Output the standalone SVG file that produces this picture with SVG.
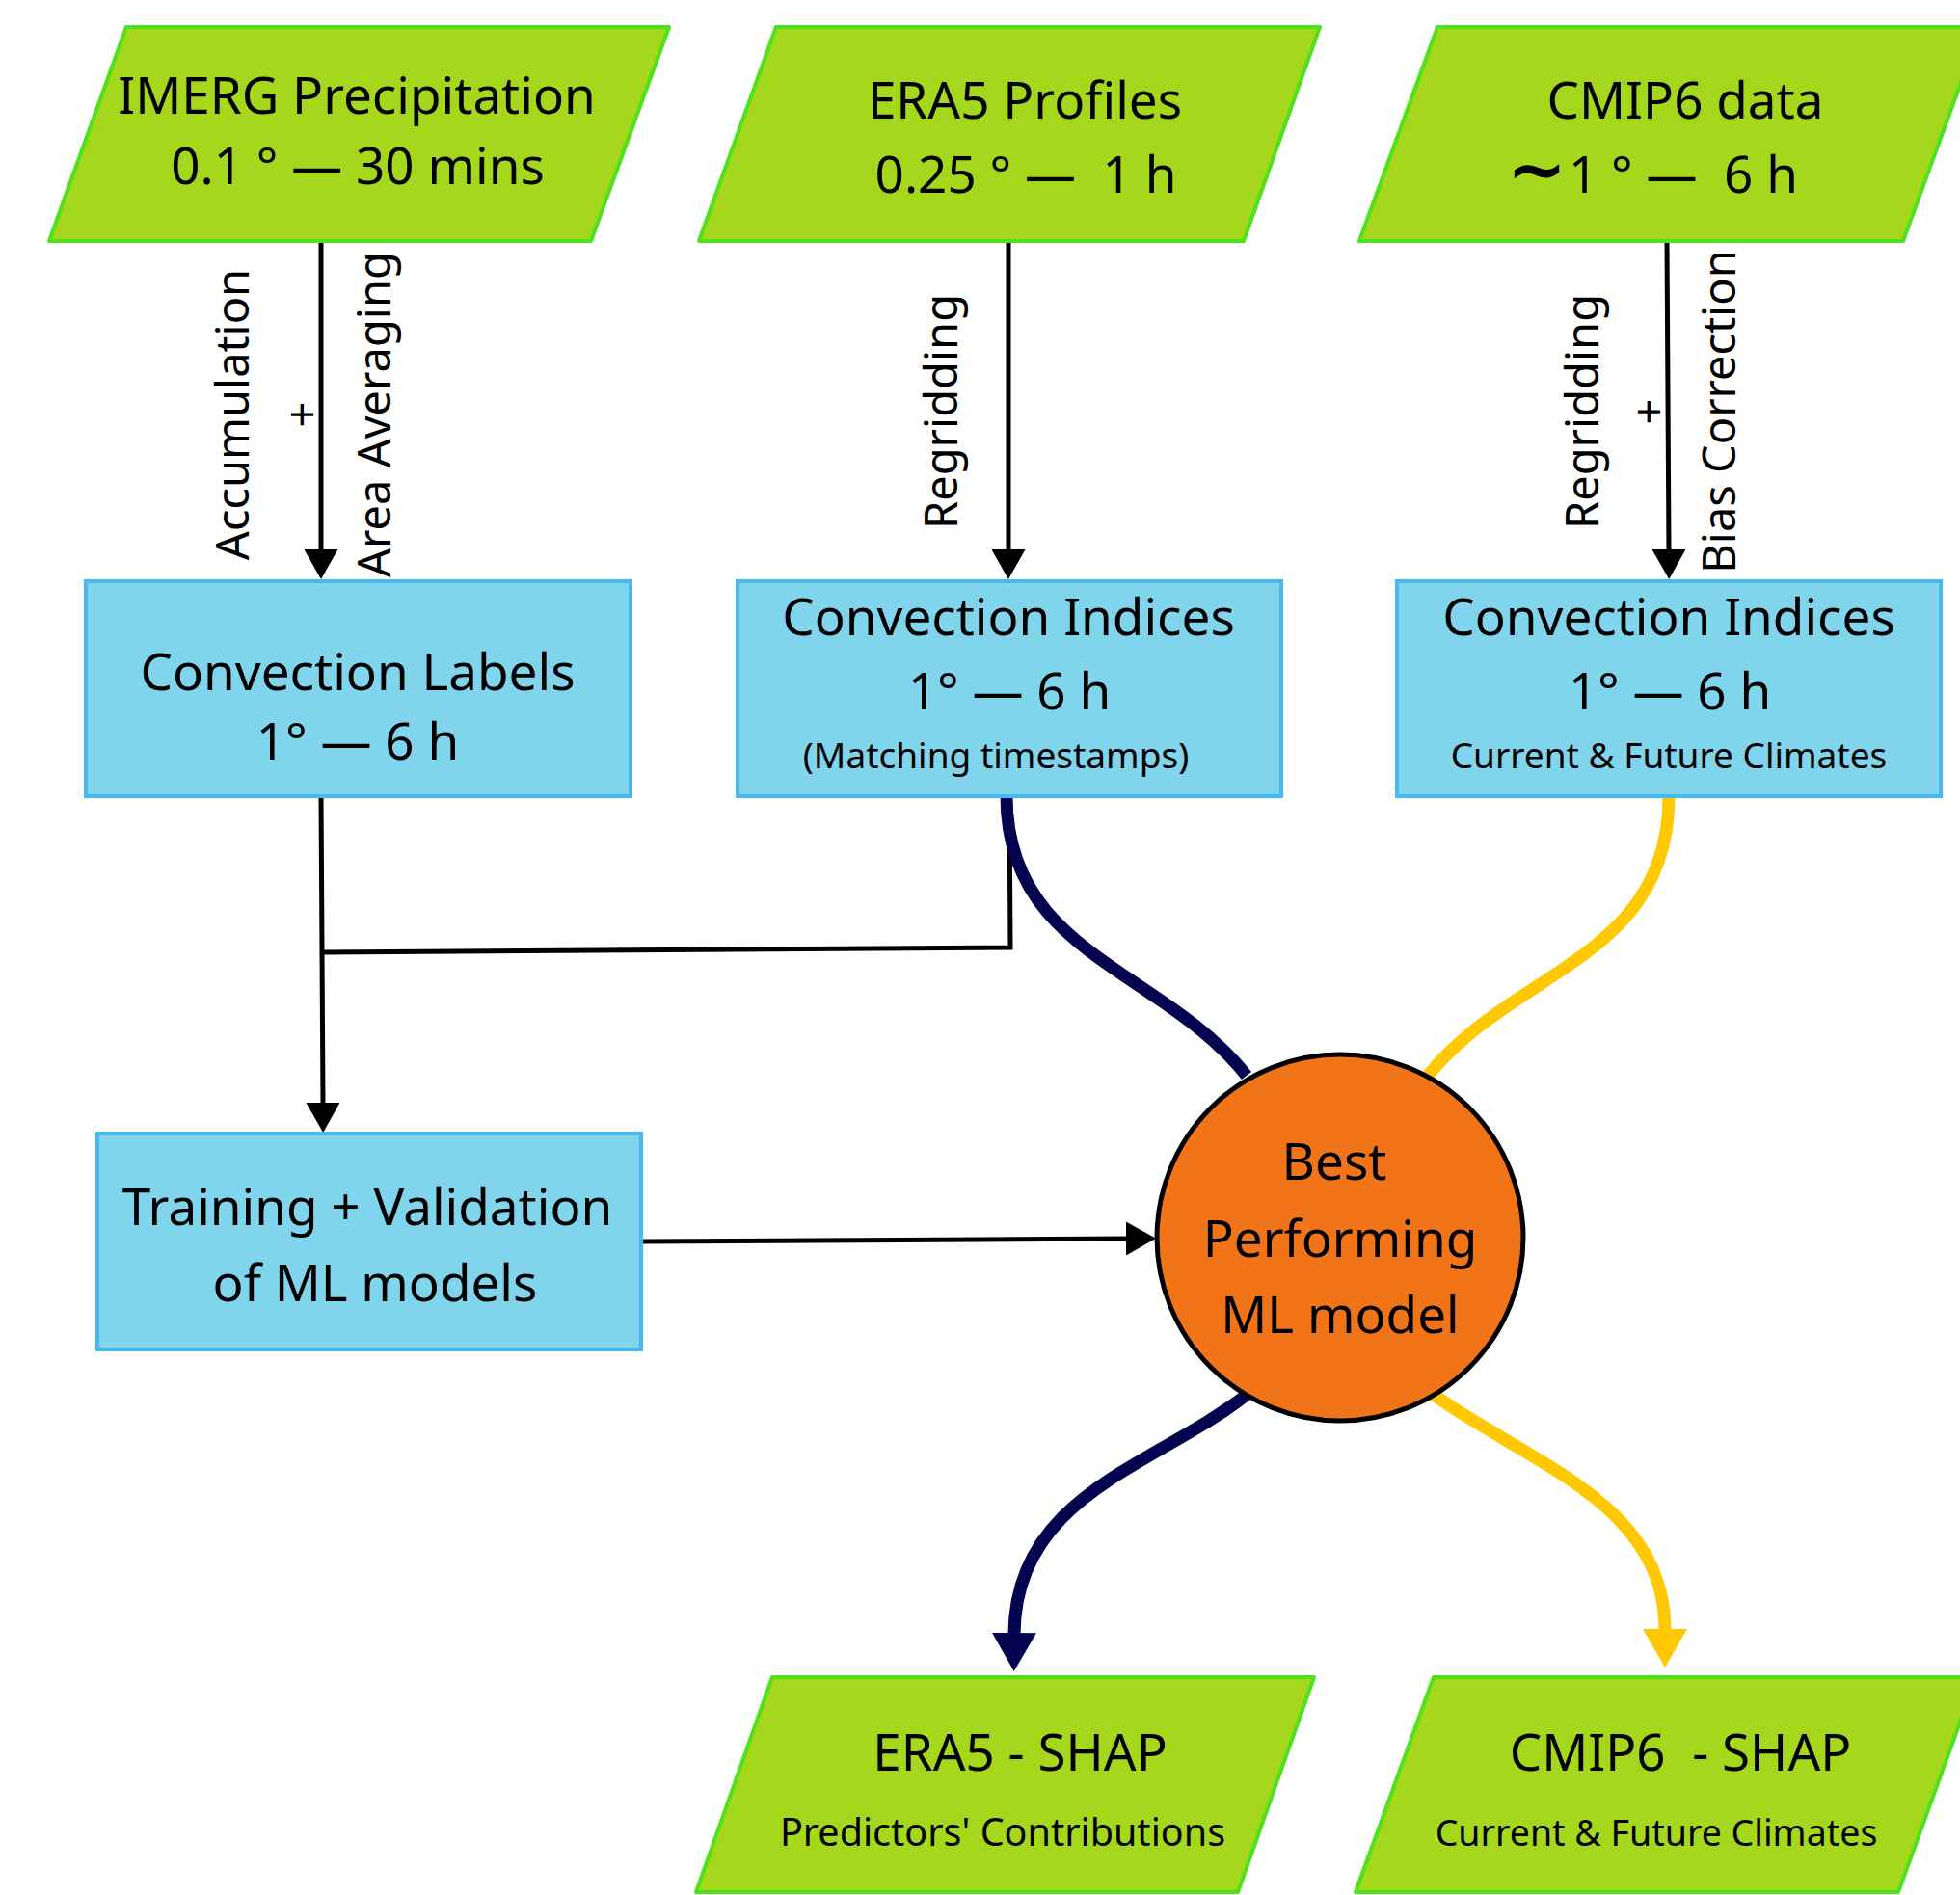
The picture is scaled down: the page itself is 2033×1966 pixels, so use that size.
<svg xmlns="http://www.w3.org/2000/svg" width="2033" height="1966" viewBox="0 0 2033 1966">
<style>
text{font-family:"Noto Sans","DejaVu Sans",sans-serif;fill:#000}
.big{font-size:53px;text-anchor:middle}
.small{font-size:37px;text-anchor:middle}
.vert{font-size:47px;text-anchor:middle}
.para{fill:#a5d81c;stroke:#4fe11d;stroke-width:4;stroke-linejoin:round}
.box{fill:#80d4ec;stroke:#44baee;stroke-width:4}
.ln{fill:none;stroke:#000;stroke-width:5}
.navy{fill:none;stroke:#03034f;stroke-width:13}
.yel{fill:none;stroke:#ffc800;stroke-width:13}
</style>
<defs>
<marker id="ab" markerUnits="userSpaceOnUse" viewBox="0 0 31 35" markerWidth="31" markerHeight="35" refX="1" refY="17.5" orient="auto"><path d="M0,0 L31,17.5 L0,35 z" fill="#000"/></marker>
<marker id="an" markerUnits="userSpaceOnUse" viewBox="0 0 40 46" markerWidth="40" markerHeight="46" refX="1" refY="23" orient="auto"><path d="M0,0 L40,23 L0,46 z" fill="#03034f"/></marker>
<marker id="ay" markerUnits="userSpaceOnUse" viewBox="0 0 40 46" markerWidth="40" markerHeight="46" refX="1" refY="23" orient="auto"><path d="M0,0 L40,23 L0,46 z" fill="#ffc800"/></marker>
</defs>
<rect width="2033" height="1966" fill="#fff"/>

<g id="connectors">
<path class="ln" d="M333,250 L333,571" marker-end="url(#ab)"/>
<path class="ln" d="M1046,252 L1046,571" marker-end="url(#ab)"/>
<path class="ln" d="M1729,250 L1731,571" marker-end="url(#ab)"/>
<path class="ln" d="M333,826 L335,1145" marker-end="url(#ab)"/>
<path class="ln" d="M335,988 L1048,983 L1047,826"/>
<path class="ln" d="M665,1288 L1169,1285" marker-end="url(#ab)"/>
<path class="navy" d="M1044,826 C1044,990 1205,1005 1293,1116"/>
<path class="yel" d="M1731,826 C1731,995 1570,1005 1481,1116"/>
<path class="navy" d="M1293,1447 C1200,1520 1053,1550 1052,1695" marker-end="url(#an)"/>
<path class="yel" d="M1487,1447 C1590,1520 1727,1560 1727,1691" marker-end="url(#ay)"/>
</g>

<g id="imerg">
<polygon class="para" points="131,28 694,28 613,250 51,250"/>
<text class="big" x="370" y="118">IMERG Precipitation</text>
<text class="big" x="371" y="191">0.1 ° — 30 mins</text>
</g>
<g id="era5">
<polygon class="para" points="805,28 1369,28 1290,250 725,250"/>
<text class="big" x="1063" y="123">ERA5 Profiles</text>
<text class="big" x="1064" y="200" xml:space="preserve">0.25 ° —  1 h</text>
</g>
<g id="cmip6">
<polygon class="para" points="1491,28 2055,28 1974,250 1410,250"/>
<text class="big" x="1748" y="123">CMIP6 data</text>
<text x="1563" y="201" style="font-family:'DejaVu Sans',sans-serif;font-weight:bold;font-size:74px">∼</text>
<text x="1627" y="200" style="font-size:53px" xml:space="preserve">1 ° —  6 h</text>
</g>

<g id="label-imerg">
<text class="vert" transform="translate(0,430) rotate(-90)"><tspan x="0" y="258">Accumulation</tspan><tspan x="0" y="330">+</tspan><tspan x="0" y="405">Area Averaging</tspan></text>
</g>
<g id="label-era5">
<text class="vert" transform="translate(0,427) rotate(-90)"><tspan x="0" y="993">Regridding</tspan></text>
</g>
<g id="label-cmip6">
<text class="vert" transform="translate(0,427) rotate(-90)"><tspan x="0" y="1658">Regridding</tspan><tspan x="0" y="1727">+</tspan><tspan x="0" y="1800">Bias Correction</tspan></text>
</g>

<g id="conv-labels">
<rect class="box" x="89" y="603" width="565" height="223"/>
<text class="big" x="371" y="716">Convection Labels</text>
<text class="big" x="371" y="788">1° — 6 h</text>
</g>
<g id="conv-era5">
<rect class="box" x="765" y="603" width="564" height="223"/>
<text class="big" x="1046" y="659">Convection Indices</text>
<text class="big" x="1047" y="736">1° — 6 h</text>
<text class="small" x="1033" y="797">(Matching timestamps)</text>
</g>
<g id="conv-cmip6">
<rect class="box" x="1449" y="603" width="564" height="223"/>
<text class="big" x="1731" y="659">Convection Indices</text>
<text class="big" x="1732" y="736">1° — 6 h</text>
<text class="small" x="1731" y="797">Current &amp; Future Climates</text>
</g>

<g id="training">
<rect class="box" x="101" y="1176" width="564" height="224"/>
<text class="big" x="381" y="1271">Training + Validation</text>
<text class="big" x="389" y="1350">of ML models</text>
</g>

<g id="best-model">
<circle cx="1390" cy="1284" r="190" fill="#f27419" stroke="#000" stroke-width="5"/>
<text class="big" x="1384" y="1224">Best</text>
<text class="big" x="1390" y="1304">Performing</text>
<text class="big" x="1390" y="1383">ML model</text>
</g>

<g id="era5-shap">
<polygon class="para" points="801,1740 1363,1740 1284,1963 722,1963"/>
<text class="big" x="1058" y="1837">ERA5 - SHAP</text>
<text class="small" x="1040" y="1915" style="font-size:39.5px">Predictors' Contributions</text>
</g>
<g id="cmip6-shap">
<polygon class="para" points="1487,1740 2050,1740 1969,1963 1406,1963"/>
<text class="big" x="1743" y="1837" xml:space="preserve">CMIP6  - SHAP</text>
<text class="small" x="1718" y="1915" style="font-size:37.5px">Current &amp; Future Climates</text>
</g>
</svg>
